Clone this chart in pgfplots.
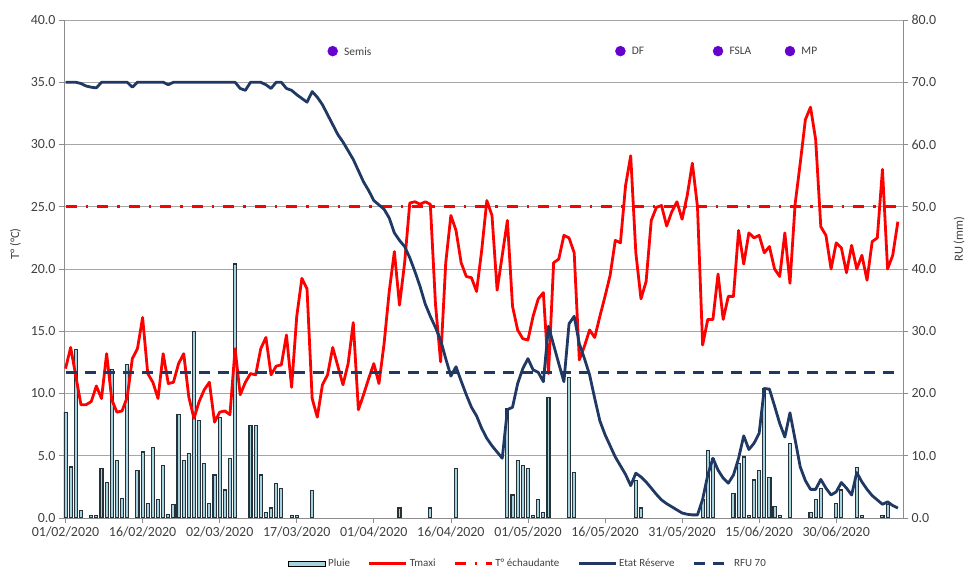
\documentclass[border=0pt]{standalone}
\usepackage{pgfplots}
\pgfplotsset{compat=1.18}
\usepackage{fontspec}
\setmainfont{Carlito}
\definecolor{tred}{HTML}{FF0000}
\definecolor{navy}{HTML}{1F3864}
\definecolor{gridc}{HTML}{A6A6A6}
\definecolor{axc}{HTML}{8C8C8C}
\definecolor{txt}{HTML}{404040}
\definecolor{barfill}{HTML}{A5D2DE}
\definecolor{baredge}{HTML}{26323A}
\definecolor{stage}{HTML}{6600CC}

\pgfplotstableread{
x y
0 12.0
1 13.7
2 11.4
3 9.1
4 9.1
5 9.35
6 10.6
7 9.6
8 13.2
9 9.5
10 8.5
11 8.6
12 9.7
13 12.8
14 13.6
15 16.1
16 11.6
17 10.9
18 9.6
19 13.2
20 10.8
21 10.9
22 12.4
23 13.2
24 9.7
25 8.0
26 9.35
27 10.3
28 10.9
29 7.7
30 8.5
31 8.6
32 8.3
33 13.6
34 9.9
35 10.9
36 11.6
37 11.5
38 13.6
39 14.5
40 11.5
41 12.2
42 12.3
43 14.7
44 10.5
45 16.2
46 19.25
47 18.4
48 9.6
49 8.1
50 10.7
51 11.5
52 13.7
53 12.2
54 10.7
55 12.4
56 15.7
57 8.7
58 9.9
59 11.2
60 12.4
61 10.8
62 14.0
63 18.2
64 21.4
65 17.1
66 20.5
67 25.3
68 25.4
69 25.2
70 25.4
71 25.2
72 17.2
73 12.55
74 20.5
75 24.3
76 23.1
77 20.5
78 19.4
79 19.3
80 18.2
81 21.5
82 25.5
83 24.3
84 18.3
85 21.1
86 23.9
87 17.0
88 15.1
89 14.4
90 14.3
91 16.2
92 17.6
93 18.1
94 11.6
95 20.5
96 20.8
97 22.7
98 22.5
99 21.3
100 12.7
101 13.8
102 15.1
103 14.5
104 16.2
105 17.8
106 19.5
107 22.3
108 22.1
109 26.7
110 29.1
111 21.3
112 17.6
113 19.0
114 23.9
115 24.95
116 25.1
117 23.45
118 24.6
119 25.4
120 24.0
121 25.9
122 28.5
123 25.0
124 13.9
125 15.95
126 15.95
127 19.6
128 15.95
129 17.8
130 17.8
131 23.1
132 20.4
133 22.9
134 22.5
135 22.7
136 21.3
137 21.8
138 20.0
139 19.4
140 22.9
141 18.85
142 25.2
143 28.5
144 32.0
145 33.0
146 30.4
147 23.4
148 22.7
149 20.0
150 22.1
151 21.7
152 19.7
153 21.9
154 20.0
155 21.1
156 19.1
157 22.2
158 22.5
159 28.0
160 20.0
161 21.1
162 23.8
}\tmaxi

\pgfplotstableread{
x y
0 70.0
1 70.0
2 70.0
3 69.8
4 69.4
5 69.2
6 69.1
7 70.0
8 70.0
9 70.0
10 70.0
11 70.0
12 70.0
13 69.2
14 70.0
15 70.0
16 70.0
17 70.0
18 70.0
19 70.0
20 69.6
21 70.0
22 70.0
23 70.0
24 70.0
25 70.0
26 70.0
27 70.0
28 70.0
29 70.0
30 70.0
31 70.0
32 70.0
33 70.0
34 69.0
35 68.7
36 70.0
37 70.0
38 70.0
39 69.6
40 69.0
41 70.0
42 70.0
43 69.0
44 68.7
45 68.0
46 67.4
47 66.8
48 68.5
49 67.6
50 66.4
51 64.8
52 63.2
53 61.6
54 60.4
55 59.0
56 57.6
57 55.8
58 54.0
59 52.6
60 51.0
61 50.3
62 49.6
63 48.2
64 45.8
65 44.6
66 43.6
67 41.8
68 39.6
69 37.2
70 34.4
71 32.4
72 30.6
73 28.6
74 25.6
75 22.8
76 24.3
77 22.0
78 19.8
79 17.8
80 16.4
81 14.4
82 12.8
83 11.6
84 10.6
85 9.6
86 17.4
87 17.8
88 21.6
89 24.0
90 25.6
91 23.8
92 23.4
93 21.9
94 30.8
95 27.8
96 24.8
97 21.9
98 31.2
99 32.4
100 28.0
101 25.6
102 23.0
103 19.2
104 15.6
105 13.4
106 11.6
107 9.8
108 8.4
109 7.0
110 5.2
111 7.2
112 6.6
113 5.8
114 4.8
115 3.8
116 2.9
117 2.3
118 1.8
119 1.3
120 0.8
121 0.6
122 0.5
123 0.5
124 3.0
125 6.9
126 9.6
127 7.7
128 6.4
129 5.6
130 6.9
131 9.6
132 13.2
133 11.0
134 12.0
135 13.6
136 20.8
137 20.7
138 18.0
139 15.2
140 13.0
141 16.9
142 12.6
143 8.2
144 6.0
145 4.6
146 4.6
147 6.2
148 4.8
149 3.7
150 4.2
151 5.7
152 4.8
153 3.7
154 7.3
155 5.8
156 4.6
157 3.6
158 2.9
159 2.2
160 2.6
161 2.0
162 1.6
}\reserve

\pgfplotstableread{
x y
0 8.5
1 4.1
2 13.5
3 0.6
5 0.2
6 0.2
7 4.0
8 2.85
9 11.9
10 4.65
11 1.6
12 12.3
14 3.85
15 5.3
16 1.2
17 5.65
18 1.45
19 4.25
20 0.25
21 1.05
22 8.3
23 4.65
24 5.2
25 15.0
26 7.8
27 4.4
28 1.2
29 3.45
30 8.1
31 2.25
32 4.8
33 20.4
36 7.4
37 7.4
38 3.45
39 0.45
40 0.8
41 2.8
42 2.4
44 0.2
45 0.2
48 2.2
65 0.8
71 0.8
76 4.0
86 8.8
87 1.85
88 4.65
89 4.25
90 4.0
91 0.2
92 1.45
93 0.45
94 9.7
98 11.3
99 3.65
111 3.0
112 0.8
124 1.45
125 5.4
126 4.8
130 2.0
131 4.35
132 4.9
133 0.2
134 3.05
135 3.85
136 10.4
137 3.25
138 0.9
139 0.2
141 5.95
145 0.45
146 1.45
147 2.4
150 1.2
151 2.25
154 4.05
155 0.2
159 0.2
160 1.05
}\pluie

\begin{document}
\begin{tikzpicture}
\useasboundingbox (-64bp,-50bp) rectangle (902bp,518bp);
\pgfplotsset{
  common/.style={
    scale only axis, width=839bp, height=498bp,
    xmin=-0.3, xmax=163,
    tick align=outside, major tick length=5bp,
    every tick/.style={axc, line width=0.75bp},
    axis line style={axc, line width=0.75bp},
    ticklabel style={font=\fontsize{14}{16}\selectfont, text=txt},
    /pgf/number format/assume math mode=true,
    y tick label style={/pgf/number format/.cd, fixed, fixed zerofill, precision=1},
    clip mode=individual,
  }
}
\begin{axis}[common,
  axis x line*=bottom, axis y line*=left,
  ymin=0, ymax=40, ytick={0,5,...,40},
  ymajorgrids, grid style={gridc, line width=0.75bp},
  xtick={0,15,...,150},
  xticklabels={01/02/2020,16/02/2020,02/03/2020,17/03/2020,01/04/2020,16/04/2020,01/05/2020,16/05/2020,31/05/2020,15/06/2020,30/06/2020},
  ylabel={T° (°C)},
  ylabel style={font=\fontsize{12.5}{14}\selectfont, text=txt, at={(axis description cs:-0.058,0.55)}, anchor=center},
]
\addplot[ybar, bar width=0.6, fill=barfill, draw=baredge, line width=1.1bp] table {\pluie};
\addplot[tred, line width=2.8bp, dash pattern=on 11bp off 9bp on 2.5bp off 9bp] coordinates {(0,25) (162,25)};
\addplot[tred, line width=2.8bp, line join=round] table {\tmaxi};
\end{axis}
\begin{axis}[common,
  axis x line=none, axis y line*=right,
  ymin=0, ymax=80, ytick={0,10,...,80},
  ylabel={RU (mm)},
  ylabel style={font=\fontsize{12.5}{14}\selectfont, text=txt, at={(axis description cs:1.067,0.56)}, anchor=center},
  legend style={at={(axis description cs:0.553,-0.092)}, anchor=center, draw=none, fill=none, legend columns=5, font=\fontsize{11}{13}\selectfont, text=txt, /tikz/every even column/.append style={column sep=16bp}},
  legend cell align=left,
  legend image code/.code={\draw[#1] (0bp,0bp) -- (37bp,0bp);},
]
\addlegendimage{legend image code/.code={\draw[fill=barfill, draw=black, line width=1bp] (0bp,-2.5bp) rectangle (37bp,2.5bp);}}
\addlegendentry{Pluie}
\addlegendimage{tred, line width=2.8bp}
\addlegendentry{Tmaxi}
\addlegendimage{tred, line width=2.8bp, dash pattern=on 11bp off 9bp on 2.5bp off 9bp}
\addlegendentry{T° échaudante}
\addplot[navy, line width=2.8bp, line join=round] table {\reserve};
\addlegendentry{Etat Réserve}
\addplot[navy, line width=2.8bp, dash pattern=on 11bp off 8bp] coordinates {(0,23.33) (162,23.33)};
\addlegendentry{RFU 70}
\addplot[forget plot, only marks, mark=*, mark size=5bp, draw=stage, fill=stage,
  nodes near coords, point meta=explicit symbolic,
  every node near coord/.append style={anchor=west, xshift=8bp, font=\fontsize{11.5}{13}\selectfont, text=txt}]
  table[meta=label] {
x y label
52 75 Semis
108 75 DF
127 75 FSLA
141 75 MP
};
\end{axis}
\end{tikzpicture}
\end{document}
